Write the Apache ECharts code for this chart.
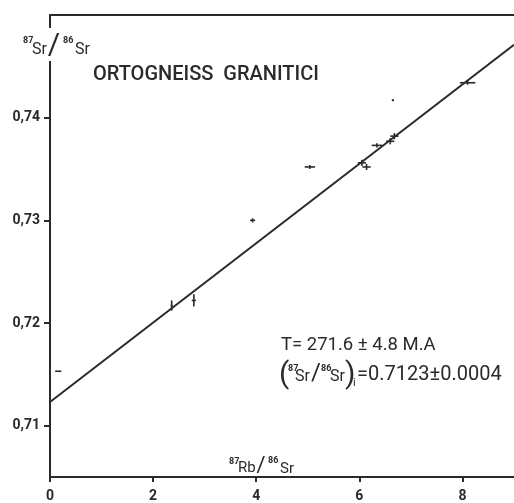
<!DOCTYPE html>
<html>
<head>
<meta charset="utf-8">
<script src="https://cdn.jsdelivr.net/npm/echarts@6/dist/echarts.min.js"></script>
<style>html,body{margin:0;padding:0;background:#fff}#c{width:514px;height:503px}</style>
</head>
<body>
<div id="c"></div>
<script>
// Data
var sampleRbSr = [0.16, 2.36, 2.79, 3.93, 5.04, 6.05, 6.14, 6.34, 6.60, 6.68, 6.65, 8.10];
var sampleSrSr = [0.7153, 0.7217, 0.7222, 0.7300, 0.7352, 0.7356, 0.7352, 0.7373, 0.7377, 0.7382, 0.7417, 0.7434];
var errRbSr    = [0.06, 0.02, 0.04, 0.05, 0.10, 0.08, 0.08, 0.10, 0.08, 0.08, 0.02, 0.15];
var errSrSr    = [0.0000, 0.0005, 0.0006, 0.0002, 0.0002, 0.0003, 0.0003, 0.0002, 0.0003, 0.0003, 0.0001, 0.0002];
var isochronX  = [0, 9];
var isochronY  = [0.7123, 0.7471];
var xTickValues = [0, 2, 4, 6, 8];
var yTickValues = [0.71, 0.72, 0.73, 0.74];
var yTickLabels = ['0,71', '0,72', '0,73', '0,74'];
var titleText = 'ORTOGNEISS  GRANITICI';
var ageText = 'T= 271.6 \u00b1 4.8 M.A';
var initialText = '=0.7123\u00b10.0004';

var ink = '#2a2a2a';
var font = 'Roboto';

var points = sampleRbSr.map(function (x, i) { return [x, sampleSrSr[i], errRbSr[i], errSrSr[i]]; });
var lineData = isochronX.map(function (x, i) { return [x, isochronY[i]]; });

function txt(text, x, y, size, opts) {
  opts = opts || {};
  return { type: 'text', x: x, y: y, z: 101, style: {
    text: text, fontFamily: font, fontSize: size, fill: ink,
    fontWeight: opts.weight || 'normal', align: opts.align || 'left', verticalAlign: 'middle'
  } };
}

var chart = echarts.init(document.getElementById('c'));
chart.setOption({
  animation: false,
  backgroundColor: '#fff',
  grid: { left: 50, right: 0, top: 15, bottom: 21 },
  xAxis: [{
    type: 'value', min: 0, max: 9, interval: 2,
    splitLine: { show: false },
    axisLine: { show: true, lineStyle: { color: ink, width: 2 } },
    axisTick: { show: true, length: 5, lineStyle: { color: ink, width: 2 }, customValues: xTickValues },
    axisLabel: { show: true, margin: 12, fontFamily: font, fontWeight: 'bold', fontSize: 14, color: ink,
      customValues: xTickValues },
  }, {
    type: 'value', min: 0, max: 9, position: 'top',
    splitLine: { show: false },
    axisLine: { show: true, lineStyle: { color: ink, width: 2 } },
    axisTick: { show: false }, axisLabel: { show: false }
  }],
  yAxis: {
    type: 'value', min: 0.705, max: 0.75,
    splitLine: { show: false },
    axisLine: { show: true, lineStyle: { color: ink, width: 2 } },
    axisTick: { show: true, length: 6, lineStyle: { color: ink, width: 2 }, customValues: yTickValues },
    axisLabel: { show: true, margin: 10, fontFamily: font, fontWeight: 'bold', fontSize: 14, color: ink,
      customValues: yTickValues,
      formatter: function (v) { var i = yTickValues.indexOf(v); return i >= 0 ? yTickLabels[i] : ''; } }
  },
  series: [{
    type: 'line', data: lineData, symbol: 'none',
    lineStyle: { color: ink, width: 2 }, z: 3
  }, {
    type: 'custom', data: points, z: 4,
    renderItem: function (params, api) {
      var x = api.value(0), y = api.value(1), ex = api.value(2), ey = api.value(3);
      var l = api.coord([x - ex, y]), r = api.coord([x + ex, y]);
      var b = api.coord([x, y - ey]), t = api.coord([x, y + ey]);
      var style = { stroke: ink, lineWidth: 1.6 };
      return { type: 'group', children: [
        { type: 'line', shape: { x1: l[0], y1: l[1], x2: r[0], y2: r[1] }, style: style },
        { type: 'line', shape: { x1: t[0], y1: t[1], x2: b[0], y2: b[1] }, style: style }
      ] };
    }
  }],
  graphic: [
    { type: 'rect', shape: { x: 46, y: 28, width: 8, height: 33 }, style: { fill: '#fff' }, z: 100 },
    // y axis name 87Sr/86Sr
    txt('87', 23, 41, 9, { weight: 'bold' }),
    txt('Sr', 32, 50, 16),
    txt('/', 54, 46, 30, { align: 'center' }),
    txt('86', 63, 41, 9, { weight: 'bold' }),
    txt('Sr', 75, 50, 16),
    // title
    txt(titleText, 93, 75, 20, { weight: 500 }),
    // x axis name 87Rb/86Sr
    txt('87', 229, 462, 9, { weight: 'bold' }),
    txt('Rb', 238, 468, 15),
    txt('/', 261, 466, 22, { align: 'center' }),
    txt('86', 268, 461, 9, { weight: 'bold' }),
    txt('Sr', 280, 469, 15),
    // annotation
    txt(ageText, 281, 345, 18.5),
    txt('(', 279, 375, 30),
    txt('87', 288, 369, 9, { weight: 'bold' }),
    txt('Sr', 295, 377, 16),
    txt('/', 316, 374, 24, { align: 'center' }),
    txt('86', 321, 369, 9, { weight: 'bold' }),
    txt('Sr', 330, 377, 16),
    txt(')', 345, 375, 30),
    txt('i', 353, 383, 11),
    txt(initialText, 357, 375, 20)
  ]
});
</script>
</body>
</html>
